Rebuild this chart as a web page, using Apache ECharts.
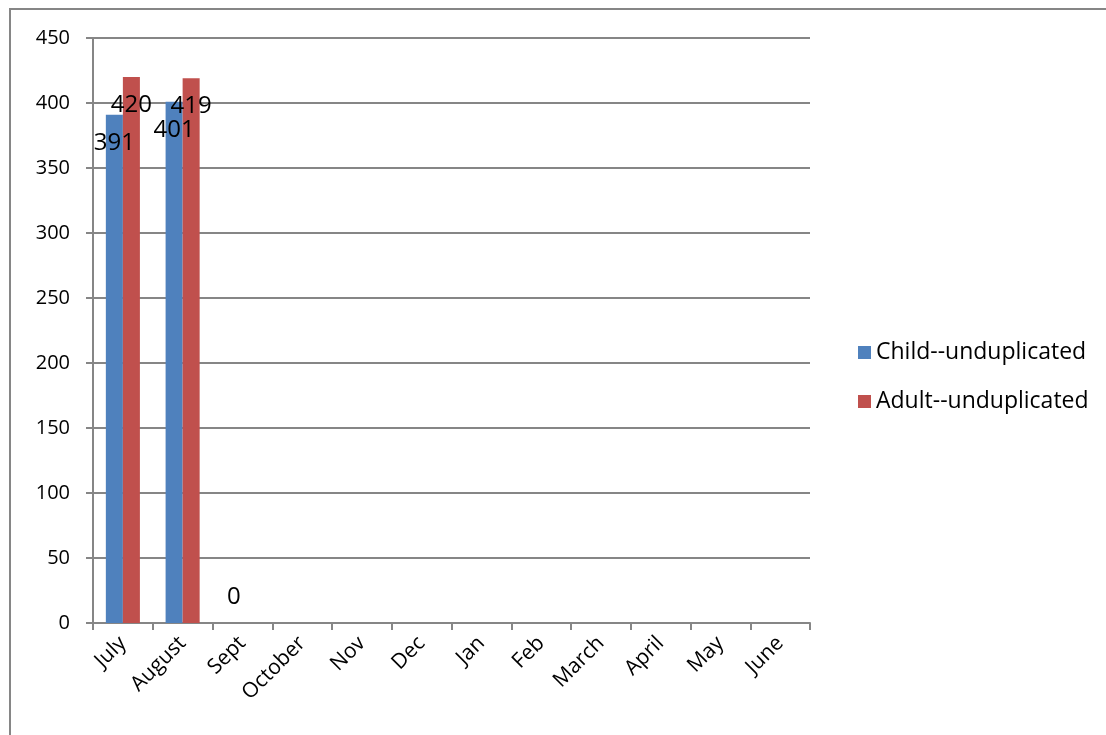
<!DOCTYPE html>
<html><head><meta charset="utf-8">
<script src="https://cdn.jsdelivr.net/npm/echarts@6/dist/echarts.min.js"></script>
<style>html,body{margin:0;padding:0;background:#fff}#c{width:1106px;height:735px}</style>
</head><body><div id="c"></div>
<script>
const categories = ['July','August','Sept','October','Nov','Dec','Jan','Feb','March','April','May','June'];
const childValues = [391, 401, 0, null, null, null, null, null, null, null, null, null];
const adultValues = [420, 419, null, null, null, null, null, null, null, null, null, null];
const seriesNames = ['Child--unduplicated', 'Adult--unduplicated'];

const font = 'Open Sans, Noto Sans, sans-serif';
const chart = echarts.init(document.getElementById('c'));
const childData = childValues.map(v => v === 0
  ? {value: v, label: {position: 'top', distance: 14}}
  : v);
chart.setOption({
  animation: false,
  graphic: [{type: 'rect', shape: {x: 10, y: 9, width: 1300, height: 900}, style: {fill: 'none', stroke: '#868686', lineWidth: 2}, silent: true}],
  grid: {left: 93, right: 296, top: 38, bottom: 112, containLabel: false},
  legend: {
    orient: 'vertical', left: 853, top: 336, itemWidth: 13, itemHeight: 13, itemGap: 26,
    icon: 'rect', textStyle: {fontSize: 23, color: '#000', fontFamily: font},
    data: seriesNames
  },
  xAxis: {
    type: 'category', data: categories,
    axisLine: {lineStyle: {color: '#868686', width: 2}},
    axisTick: {show: true, length: 7, lineStyle: {color: '#868686', width: 2}},
    axisLabel: {rotate: 45, fontSize: 21, color: '#000', fontFamily: font, margin: 17, interval: 0}
  },
  yAxis: {
    type: 'value', min: 0, max: 450, interval: 50,
    axisLine: {show: true, lineStyle: {color: '#868686', width: 2}},
    axisTick: {show: true, length: 7, lineStyle: {color: '#868686', width: 2}},
    splitLine: {lineStyle: {color: '#868686', width: 2}},
    axisLabel: {fontSize: 20, color: '#000', fontFamily: font, margin: 23}
  },
  series: [
    {name: seriesNames[0], type: 'bar', data: childData, itemStyle: {color: '#4F81BD'},
     barCategoryGap: '43%', barGap: '0%',
     label: {show: true, position: 'insideTop', distance: 16, fontSize: 24, color: '#000', fontFamily: font}},
    {name: seriesNames[1], type: 'bar', data: adultValues, itemStyle: {color: '#C0504D'},
     barCategoryGap: '43%', barGap: '0%',
     label: {show: true, position: 'insideTop', distance: 16, fontSize: 24, color: '#000', fontFamily: font}}
  ]
});
</script></body></html>
